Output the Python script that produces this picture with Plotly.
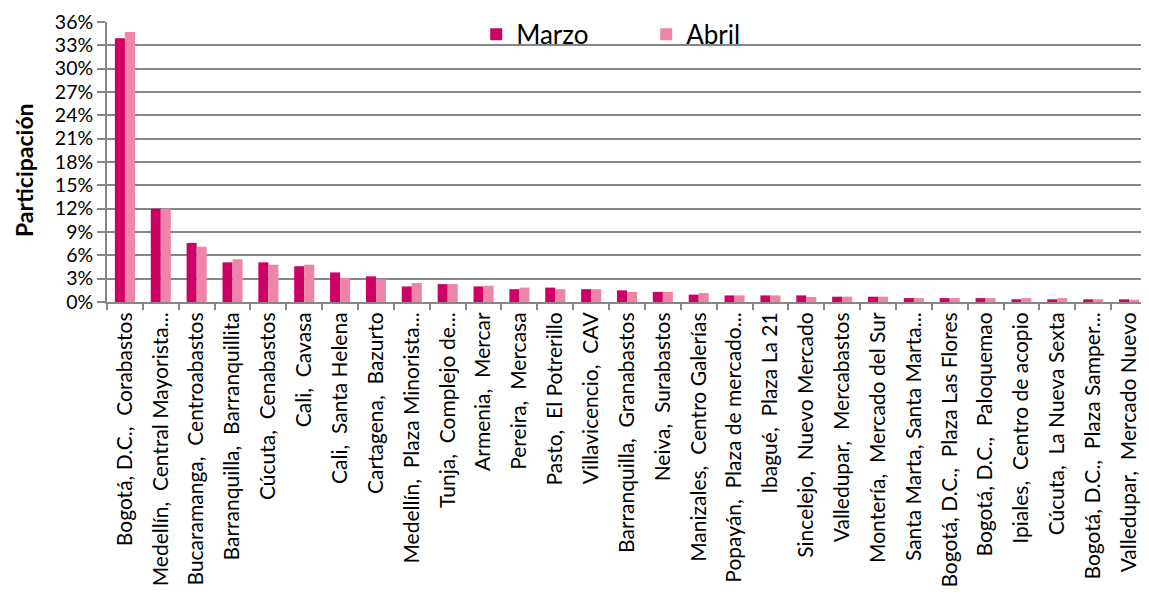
import plotly.graph_objects as go

# Participación por central mayorista (marzo vs abril)
centrales = [
    'Bogotá, D.C.,  Corabastos',
    'Medellín,  Central Mayorista...',
    'Bucaramanga,  Centroabastos',
    'Barranquilla,  Barranquillita',
    'Cúcuta,  Cenabastos',
    'Cali,  Cavasa',
    'Cali,  Santa Helena',
    'Cartagena,  Bazurto',
    'Medellín,  Plaza Minorista...',
    'Tunja,  Complejo de...',
    'Armenia,  Mercar',
    'Pereira,  Mercasa',
    'Pasto,  El Potrerillo',
    'Villavicencio,  CAV',
    'Barranquilla,  Granabastos',
    'Neiva,  Surabastos',
    'Manizales,  Centro Galerías',
    'Popayán,  Plaza de mercado...',
    'Ibagué,  Plaza La 21',
    'Sincelejo,  Nuevo Mercado',
    'Valledupar,  Mercabastos',
    'Montería,  Mercado del Sur',
    'Santa Marta, Santa Marta...',
    'Bogotá, D.C.,  Plaza Las Flores',
    'Bogotá, D.C.,  Paloquemao',
    'Ipiales,  Centro de acopio',
    'Cúcuta,  La Nueva Sexta',
    'Bogotá, D.C.,  Plaza Samper...',
    'Valledupar,  Mercado Nuevo',
]

marzo = [0.339, 0.120, 0.076, 0.051, 0.051, 0.046, 0.038, 0.033, 0.020, 0.023,
         0.020, 0.0165, 0.0185, 0.0165, 0.015, 0.013, 0.0095, 0.0085, 0.0085, 0.0085,
         0.0068, 0.0068, 0.005, 0.005, 0.005, 0.0035, 0.0035, 0.0035, 0.0035]

abril = [0.347, 0.120, 0.071, 0.055, 0.048, 0.048, 0.031, 0.029, 0.0245, 0.023,
         0.021, 0.0185, 0.0165, 0.0165, 0.013, 0.013, 0.0115, 0.0085, 0.0085, 0.0065,
         0.0068, 0.0068, 0.005, 0.005, 0.005, 0.005, 0.005, 0.0035, 0.003]

FONT = 'Lato, Open Sans, sans-serif'
GRID = '#878787'

fig = go.Figure()
fig.add_trace(go.Bar(x=centrales, y=marzo, name='Marzo', marker_color='#CC0066',
                     marker_line_width=0))
fig.add_trace(go.Bar(x=centrales, y=abril, name='Abril', marker_color='#EE85A9',
                     marker_line_width=0))

# the page body adds an 8px offset, so the figure is a bit smaller
fig.update_layout(
    width=1141, height=587,
    margin=dict(l=99, r=2, t=14, b=293, autoexpand=False),
    paper_bgcolor='white', plot_bgcolor='white',
    barmode='group', bargap=0.44, bargroupgap=0,
    font=dict(family=FONT, color='black'),
    showlegend=True,
    legend=dict(orientation='h', x=0.355, y=1.04, xanchor='left', yanchor='top',
                bgcolor='rgba(0,0,0,0)', font=dict(size=26, family=FONT),
                entrywidth=125, entrywidthmode='pixels', itemwidth=30),
)

fig.add_annotation(text='<b>Participación</b>', textangle=-90,
                   xref='paper', yref='paper', x=0, y=0.471,
                   xanchor='center', yanchor='middle', xshift=-83,
                   showarrow=False, font=dict(size=23, family=FONT))

fig.update_xaxes(
    type='category', tickangle=-90, tickfont=dict(size=21, family=FONT),
    showline=True, linecolor=GRID, linewidth=2,
    ticks='outside', tickson='boundaries', ticklen=6, tickcolor=GRID, tickwidth=2,
    showgrid=False, automargin=False,
)

fig.update_yaxes(
    range=[0, 0.36], dtick=0.03, tickformat='.0%',
    tickfont=dict(size=19.5, family=FONT),
    showgrid=True, gridcolor=GRID, gridwidth=2,
    showline=True, linecolor=GRID, linewidth=2,
    ticks='outside', ticklen=8, tickcolor=GRID, tickwidth=2,
    zeroline=False, automargin=False,
)

fig.write_html("out.html")
